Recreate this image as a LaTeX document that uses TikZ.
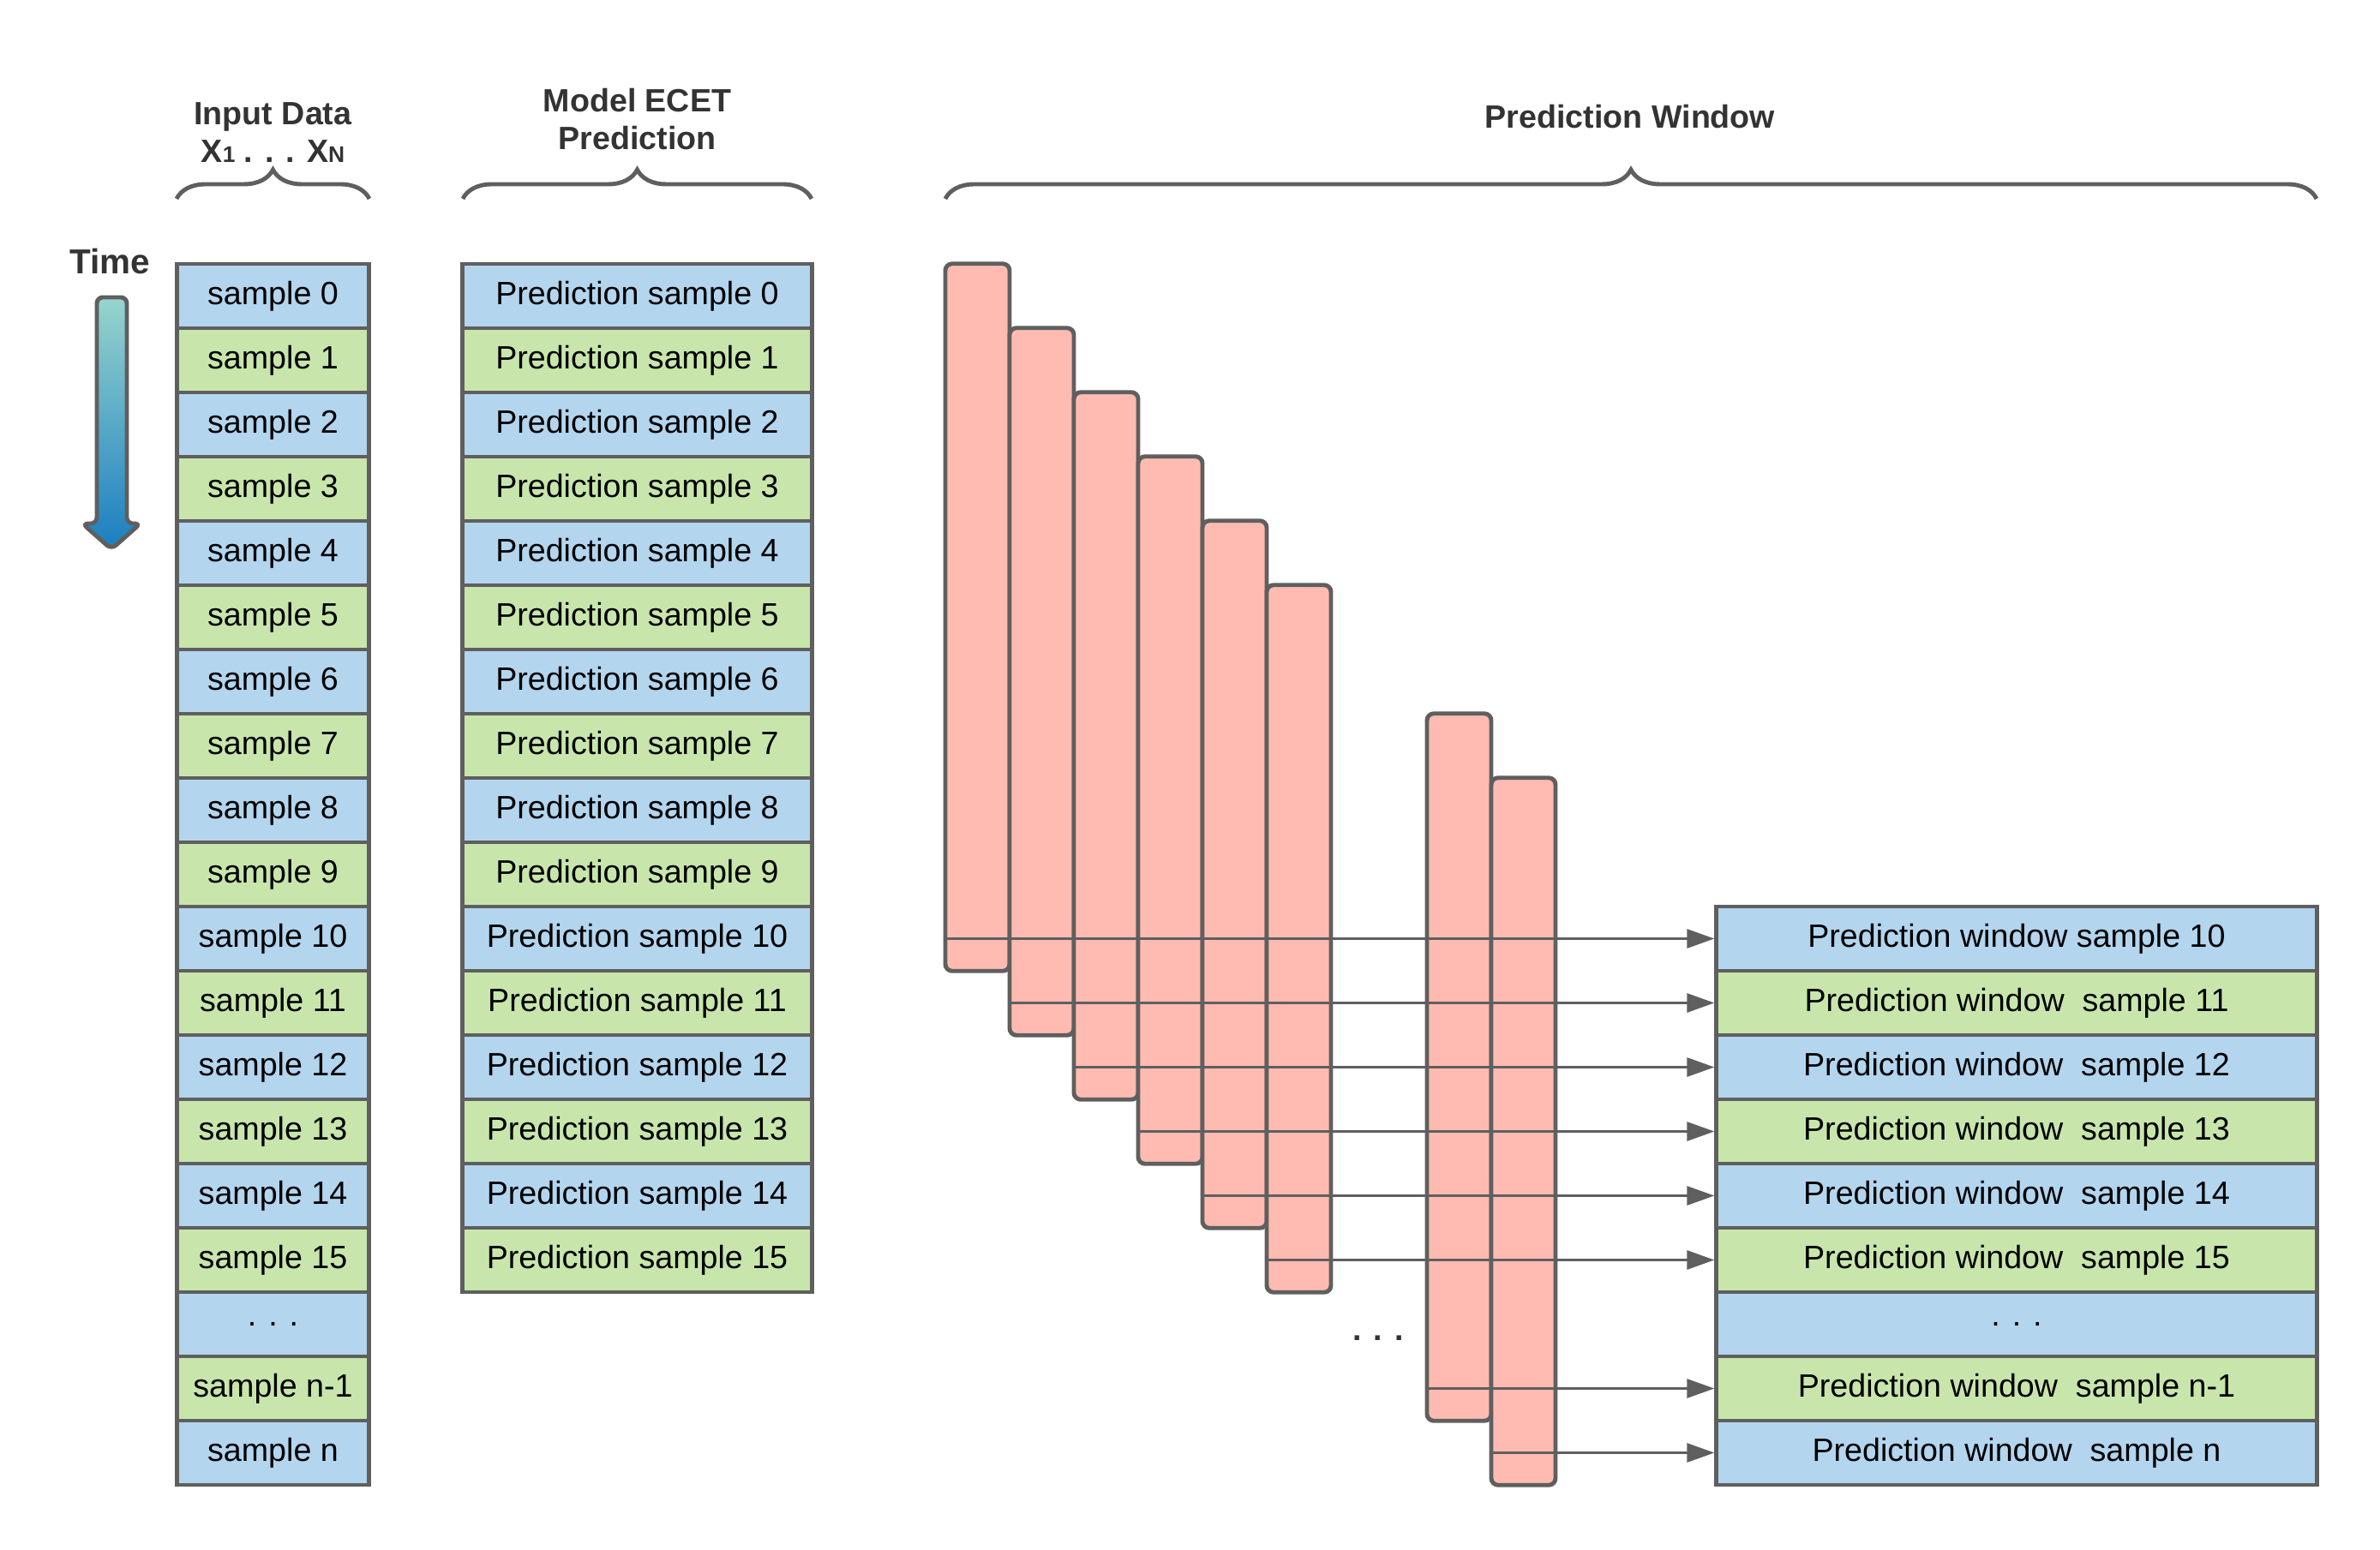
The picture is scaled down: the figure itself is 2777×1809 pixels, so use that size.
\documentclass[tikz,border=0pt]{standalone}
\usepackage{fontspec}
\setmainfont{Liberation Sans}
\usetikzlibrary{arrows.meta,decorations.pathreplacing}

\definecolor{edgegray}{HTML}{5F5F5F}
\definecolor{headgray}{HTML}{333333}
\definecolor{rowblue}{HTML}{B3D5EE}
\definecolor{rowgreen}{HTML}{C8E6AC}
\definecolor{barpink}{HTML}{FFBBB2}
\definecolor{timetop}{HTML}{97D4CD}
\definecolor{timemid}{HTML}{98D1EC}
\definecolor{timebot}{HTML}{1A7EC1}

\tikzset{
  cell/.style={draw=edgegray, line width=1.4pt, minimum height=0.75cm, inner sep=0pt, font=\fontsize{10.7}{12}\selectfont},
  xcell/.style={cell, minimum width=2.24cm},
  pcell/.style={cell, minimum width=4.07cm},
  wcell/.style={cell, minimum width=7cm},
  bluecell/.style={fill=rowblue},
  greencell/.style={fill=rowgreen},
  bar/.style={draw=edgegray, fill=barpink, line width=1.4pt, rounded corners=0.08cm, minimum width=0.75cm, minimum height=8.25cm, inner sep=0pt},
  head/.style={text=headgray, align=center, font=\bfseries\fontsize{10.7}{12.5}\selectfont},
  brace/.style={decorate, decoration={brace, amplitude=0.34cm}, draw=edgegray, line width=1.4pt},
  flow/.style={draw=edgegray, line width=0.85pt, -{Triangle[length=0.32cm, width=0.22cm]}},
  timearrow/.style={draw=edgegray, line width=1.4pt, rounded corners=0.07cm, top color=timetop, middle color=timemid, bottom color=timebot}
}

\newcommand{\subidx}[1]{{\fontsize{7.5}{9}\selectfont #1}}

\begin{document}
\begin{tikzpicture}[x=0.01cm, y=-0.01cm]
    \useasboundingbox (0,0) rectangle (2777,1809);

    \node[head] (inhead) at (318.5,155) {Input Data\\X\subidx{1} . . . X\subidx{N}};
    \node[head] (modelhead) at (743.5,139) {Model ECET\\Prediction};
    \node[head] (winhead) at (1902,136) {Prediction Window};
    \node[head, font=\bfseries\fontsize{11.5}{13}\selectfont] (time) at (128,305) {Time};

    \draw[timearrow] (113,347) -- (148,347) -- (148,611) -- (164,611) -- (130,641) -- (96,611) -- (113,611) -- cycle;

    \node[xcell, bluecell] (x0) at (318.5,345.5) {sample 0};
    \node[xcell, greencell] (x1) at (318.5,420.5) {sample 1};
    \node[xcell, bluecell] (x2) at (318.5,495.5) {sample 2};
    \node[xcell, greencell] (x3) at (318.5,570.5) {sample 3};
    \node[xcell, bluecell] (x4) at (318.5,645.5) {sample 4};
    \node[xcell, greencell] (x5) at (318.5,720.5) {sample 5};
    \node[xcell, bluecell] (x6) at (318.5,795.5) {sample 6};
    \node[xcell, greencell] (x7) at (318.5,870.5) {sample 7};
    \node[xcell, bluecell] (x8) at (318.5,945.5) {sample 8};
    \node[xcell, greencell] (x9) at (318.5,1020.5) {sample 9};
    \node[xcell, bluecell] (x10) at (318.5,1095.5) {sample 10};
    \node[xcell, greencell] (x11) at (318.5,1170.5) {sample 11};
    \node[xcell, bluecell] (x12) at (318.5,1245.5) {sample 12};
    \node[xcell, greencell] (x13) at (318.5,1320.5) {sample 13};
    \node[xcell, bluecell] (x14) at (318.5,1395.5) {sample 14};
    \node[xcell, greencell] (x15) at (318.5,1470.5) {sample 15};
    \node[xcell, bluecell] (x16) at (318.5,1545.5) {. . .};
    \node[xcell, greencell] (x17) at (318.5,1620.5) {sample n-1};
    \node[xcell, bluecell] (x18) at (318.5,1695.5) {sample n};

    \node[pcell, bluecell] (p0) at (743.5,345.5) {Prediction sample 0};
    \node[pcell, greencell] (p1) at (743.5,420.5) {Prediction sample 1};
    \node[pcell, bluecell] (p2) at (743.5,495.5) {Prediction sample 2};
    \node[pcell, greencell] (p3) at (743.5,570.5) {Prediction sample 3};
    \node[pcell, bluecell] (p4) at (743.5,645.5) {Prediction sample 4};
    \node[pcell, greencell] (p5) at (743.5,720.5) {Prediction sample 5};
    \node[pcell, bluecell] (p6) at (743.5,795.5) {Prediction sample 6};
    \node[pcell, greencell] (p7) at (743.5,870.5) {Prediction sample 7};
    \node[pcell, bluecell] (p8) at (743.5,945.5) {Prediction sample 8};
    \node[pcell, greencell] (p9) at (743.5,1020.5) {Prediction sample 9};
    \node[pcell, bluecell] (p10) at (743.5,1095.5) {Prediction sample 10};
    \node[pcell, greencell] (p11) at (743.5,1170.5) {Prediction sample 11};
    \node[pcell, bluecell] (p12) at (743.5,1245.5) {Prediction sample 12};
    \node[pcell, greencell] (p13) at (743.5,1320.5) {Prediction sample 13};
    \node[pcell, bluecell] (p14) at (743.5,1395.5) {Prediction sample 14};
    \node[pcell, greencell] (p15) at (743.5,1470.5) {Prediction sample 15};

    \draw[brace] (206,232) -- (431,232);
    \draw[brace] (540,232) -- (947,232);
    \draw[brace] (1103,232) -- (2703,232);

    \node[bar] (b10) at (1140.5,720.5) {};
    \node[bar] (b11) at (1215.5,795.5) {};
    \node[bar] (b12) at (1290.5,870.5) {};
    \node[bar] (b13) at (1365.5,945.5) {};
    \node[bar] (b14) at (1440.5,1020.5) {};
    \node[bar] (b15) at (1515.5,1095.5) {};
    \node[bar] (b17) at (1702.5,1245.5) {};
    \node[bar] (b18) at (1777.5,1320.5) {};
    \node[text=headgray, font=\bfseries\fontsize{10.7}{12}\selectfont] (gap) at (1608,1562) {. . .};

    \node[wcell, bluecell] (w10) at (2353,1095.5) {Prediction window sample 10};
    \node[wcell, greencell] (w11) at (2353,1170.5) {Prediction window\ \ sample 11};
    \node[wcell, bluecell] (w12) at (2353,1245.5) {Prediction window\ \ sample 12};
    \node[wcell, greencell] (w13) at (2353,1320.5) {Prediction window\ \ sample 13};
    \node[wcell, bluecell] (w14) at (2353,1395.5) {Prediction window\ \ sample 14};
    \node[wcell, greencell] (w15) at (2353,1470.5) {Prediction window\ \ sample 15};
    \node[wcell, bluecell] (w16) at (2353,1545.5) {. . .};
    \node[wcell, greencell] (w17) at (2353,1620.5) {Prediction window\ \ sample n-1};
    \node[wcell, bluecell] (w18) at (2353,1695.5) {Prediction window\ \ sample n};

    \draw[flow] (b10.west |- w10.west) -- (w10.west);
    \draw[flow] (b11.west |- w11.west) -- (w11.west);
    \draw[flow] (b12.west |- w12.west) -- (w12.west);
    \draw[flow] (b13.west |- w13.west) -- (w13.west);
    \draw[flow] (b14.west |- w14.west) -- (w14.west);
    \draw[flow] (b15.west |- w15.west) -- (w15.west);
    \draw[flow] (b17.west |- w17.west) -- (w17.west);
    \draw[flow] (b18.west |- w18.west) -- (w18.west);
\end{tikzpicture}
\end{document}
